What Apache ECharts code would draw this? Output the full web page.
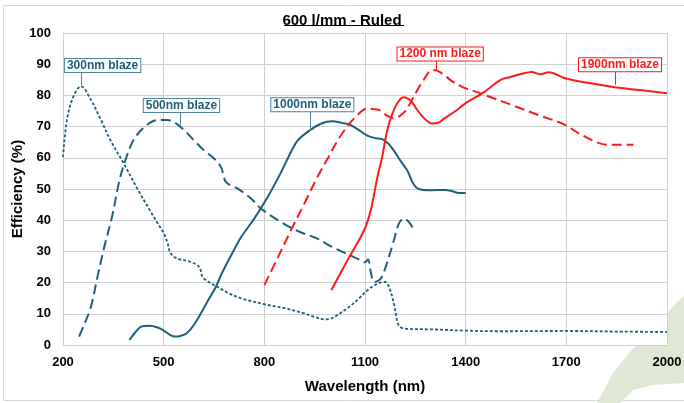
<!DOCTYPE html>
<html lang="en">
<head>
    <meta charset="utf-8">
    <title>600 l/mm - Ruled</title>
    <script src="https://cdn.jsdelivr.net/npm/echarts@6/dist/echarts.min.js"></script>
    <style>
        html, body { margin: 0; padding: 0; background: #fff; }
        #chart { width: 684px; height: 403px; }
    </style>
</head>
<body>
<div id="chart"></div>
<script>
    // values (wavelength nm / efficiency %)
    var xTicks = [200, 500, 800, 1100, 1400, 1700, 2000];

    var b300Nm  = [200, 212, 232, 254, 282, 312, 342, 382, 422, 462, 482, 501, 512, 521, 541, 581, 606, 616, 633, 651, 690, 733, 803, 860, 913, 950, 978, 1000, 1018, 1050, 1077, 1110, 1140, 1160, 1172, 1186, 1200, 1216, 1300, 1400, 1500, 1700, 1850, 2000];
    var b300Eff = [60.2, 72.4, 79.9, 82.9, 78.8, 72.4, 65.5, 58, 50, 42.6, 39, 35.7, 32.5, 29.3, 27.7, 26.6, 25, 21.8, 20.3, 19.2, 16.8, 14.9, 13, 11.8, 10.3, 9, 8.2, 8.5, 9.6, 12, 14.4, 17.8, 19.8, 20.2, 18.5, 13.3, 6.4, 5.3, 5.0, 4.6, 4.4, 4.5, 4.3, 4.2];

    var b500Nm  = [248, 265, 283, 303, 323, 347, 367, 387, 412, 447, 482, 511, 546, 601, 621, 650, 671, 686, 721, 761, 790, 850, 900, 958, 1000, 1038, 1080, 1100, 1109, 1118, 1127, 1145, 1160, 1186, 1201, 1216, 1231, 1250];
    var b500Eff = [2.7, 7, 12.2, 22, 31.4, 41.5, 52.2, 59.6, 66, 70.3, 72.1, 72.1, 70.3, 64.4, 62.3, 59.8, 57, 52.2, 50.1, 46.9, 43.7, 39.4, 36.5, 34.1, 31.5, 29.6, 27.5, 26.5, 27.4, 23, 20.2, 21, 24.5, 33.5, 38.9, 40.5, 39.4, 36.2];

    var b1000Nm  = [398, 415, 433, 458, 480, 498, 520, 533, 550, 568, 593, 633, 655, 673, 700, 731, 770, 810, 850, 880, 899, 934, 970, 1003, 1030, 1057, 1080, 1107, 1130, 1151, 1170, 1186, 1206, 1226, 1245, 1260, 1295, 1340, 1360, 1380, 1400];
    var b1000Eff = [1.6, 4, 5.9, 6.2, 5.7, 4.8, 3.2, 2.7, 2.9, 3.7, 6.9, 14.4, 18.5, 22.9, 28.5, 34.6, 40.5, 47.4, 55.4, 62, 65.5, 68.7, 71, 71.7, 71.2, 70.5, 69, 67.1, 66.3, 66, 64.5, 62.3, 59, 55.9, 51.5, 50, 49.6, 49.7, 49.3, 48.7, 48.7];

    var b1200Nm  = [800, 840, 879, 920, 958, 990, 1018, 1040, 1057, 1080, 1107, 1126, 1146, 1165, 1186, 1205, 1221, 1240, 1255, 1275, 1295, 1310, 1330, 1360, 1394, 1430, 1463, 1543, 1622, 1691, 1741, 1790, 1820, 1860, 1900];
    var b1200Eff = [19.2, 28, 36.7, 45.5, 53.8, 60, 65.5, 69, 71.4, 74, 75.8, 75.6, 75.1, 73.5, 72.7, 73.5, 75.1, 78.5, 81.5, 85, 87.9, 88.1, 87, 84.5, 82.5, 81.2, 79.9, 76.7, 73.5, 70.8, 67.6, 65, 64.2, 64.2, 64.2];

    var b1900Nm  = [1000, 1048, 1097, 1117, 1137, 1151, 1166, 1181, 1201, 1216, 1236, 1250, 1265, 1285, 1300, 1320, 1334, 1370, 1400, 1453, 1503, 1533, 1562, 1597, 1622, 1647, 1696, 1760, 1840, 1919, 2000];
    var b1900Eff = [17.6, 27.2, 36.7, 43.1, 53.8, 60.2, 68.7, 74, 78.3, 79.4, 78.3, 76.2, 74, 71.8, 71, 71.3, 72.4, 75, 77.5, 80.9, 84.9, 85.9, 86.8, 87.5, 86.8, 87.4, 85.5, 84.1, 82.7, 81.7, 80.7];

    var teal = '#1f5f78';
    var red = '#ff1a1a';
    var font = 'Liberation Sans, Arial';

    function pairs(xs, ys) {
        var out = [];
        for (var i = 0; i < xs.length; i++) out.push([xs[i], ys[i]]);
        return out;
    }

    // label box + leader line for each curve
    function tag(text, color, boxAt, lineFrom, lineTo, leaderColor) {
        return {
            markPoint: {
                symbol: 'rect', symbolSize: 0, silent: true, animation: false,
                data: [{
                    coord: boxAt,
                    label: {
                        show: true, position: 'inside', formatter: text,
                        color: color, fontFamily: font, fontWeight: 'bold', fontSize: 12,
                        backgroundColor: '#fff', borderColor: leaderColor, borderWidth: 1,
                        padding: [1, 2, 0, 2]
                    }
                }]
            },
            markLine: {
                symbol: 'none', silent: true, animation: false,
                label: { show: false },
                lineStyle: { color: leaderColor, type: 'solid', width: 1 },
                data: [[{ coord: lineFrom }, { coord: lineTo }]]
            }
        };
    }

    function curve(name, data, color, dash, width, extra) {
        var s = {
            name: name, type: 'line', data: data, smooth: 0.35,
            showSymbol: false, symbol: 'none', animation: false,
            lineStyle: { color: color, width: width, type: dash }
        };
        for (var k in extra) s[k] = extra[k];
        return s;
    }

    var chart = echarts.init(document.getElementById('chart'), null, { renderer: 'canvas' });
    chart.setOption({
        backgroundColor: '#fff',
        title: {
            text: '600 l/mm - Ruled', left: 'center', top: 8,
            textStyle: { fontFamily: font, fontWeight: 'bold', fontSize: 15, color: '#000' }
        },
        graphic: [
            { type: 'rect', shape: { x: 3.5, y: 5.5, width: 690, height: 395 }, style: { fill: 'none', stroke: '#d9d9d9', lineWidth: 1 }, z: -10 },
            { type: 'polygon', shape: { points: [[597, 403], [613, 373], [630, 352], [648, 334], [664, 316], [677, 302], [684, 296], [684, 383], [653, 385], [633, 390], [620, 403]] }, style: { fill: '#dfe8d4' }, z: -5 },
            { type: 'line', shape: { x1: 284, y1: 25.5, x2: 404, y2: 25.5 }, style: { stroke: '#000', lineWidth: 1 } }
        ],
        grid: {
            left: 63, right: 17, top: 33, bottom: 58,
            outerBoundsMode: 'none', containLabel: false,
            show: true, backgroundColor: '#fff', borderWidth: 0
        },
        xAxis: {
            type: 'value', min: xTicks[0], max: xTicks[xTicks.length - 1], interval: 300,
            name: 'Wavelength (nm)', nameLocation: 'middle', nameGap: 34, nameMoveOverlap: false,
            nameTextStyle: { fontFamily: font, fontWeight: 'bold', fontSize: 15, color: '#000' },
            axisLine: { lineStyle: { color: '#d0d0d0' } },
            axisTick: { show: false },
            axisLabel: { margin: 11, fontFamily: font, fontWeight: 'bold', fontSize: 13, color: '#000',
                formatter: function (v) { return String(v); } },
            splitLine: { lineStyle: { color: '#d0d0d0' } }
        },
        yAxis: {
            type: 'value', min: 0, max: 100, interval: 10,
            name: 'Efficiency (%)', nameLocation: 'middle', nameGap: 38, nameMoveOverlap: false,
            nameTextStyle: { fontFamily: font, fontWeight: 'bold', fontSize: 15, color: '#000' },
            axisLine: { show: true, lineStyle: { color: '#d0d0d0' } },
            axisTick: { show: false },
            axisLabel: { margin: 12, fontFamily: font, fontWeight: 'bold', fontSize: 13, color: '#000' },
            splitLine: { lineStyle: { color: '#d0d0d0' } }
        },
        series: [
            curve('300nm blaze', pairs(b300Nm, b300Eff), teal, [3, 2], 1.8,
                tag('300nm blaze', teal, [318, 89.6], [254, 83.2], [254, 88], '#4f8198')),
            curve('500nm blaze', pairs(b500Nm, b500Eff), teal, [10, 5], 2,
                tag('500nm blaze', teal, [553, 76.8], [548, 70.4], [548, 75.2], '#4f8198')),
            curve('1000nm blaze', pairs(b1000Nm, b1000Eff), teal, 'solid', 2,
                tag('1000nm blaze', teal, [943, 77], [938, 68.8], [938, 75.2], '#4f8198')),
            curve('1200 nm blaze', pairs(b1200Nm, b1200Eff), red, [10, 5], 2,
                tag('1200 nm blaze', red, [1324, 93.3], [1311, 88.2], [1311, 91.4], red)),
            curve('1900nm blaze', pairs(b1900Nm, b1900Eff), red, 'solid', 2,
                tag('1900nm blaze', red, [1860, 89.8], [1847, 83.4], [1847, 87.5], red))
        ]
    });
</script>
</body>
</html>
